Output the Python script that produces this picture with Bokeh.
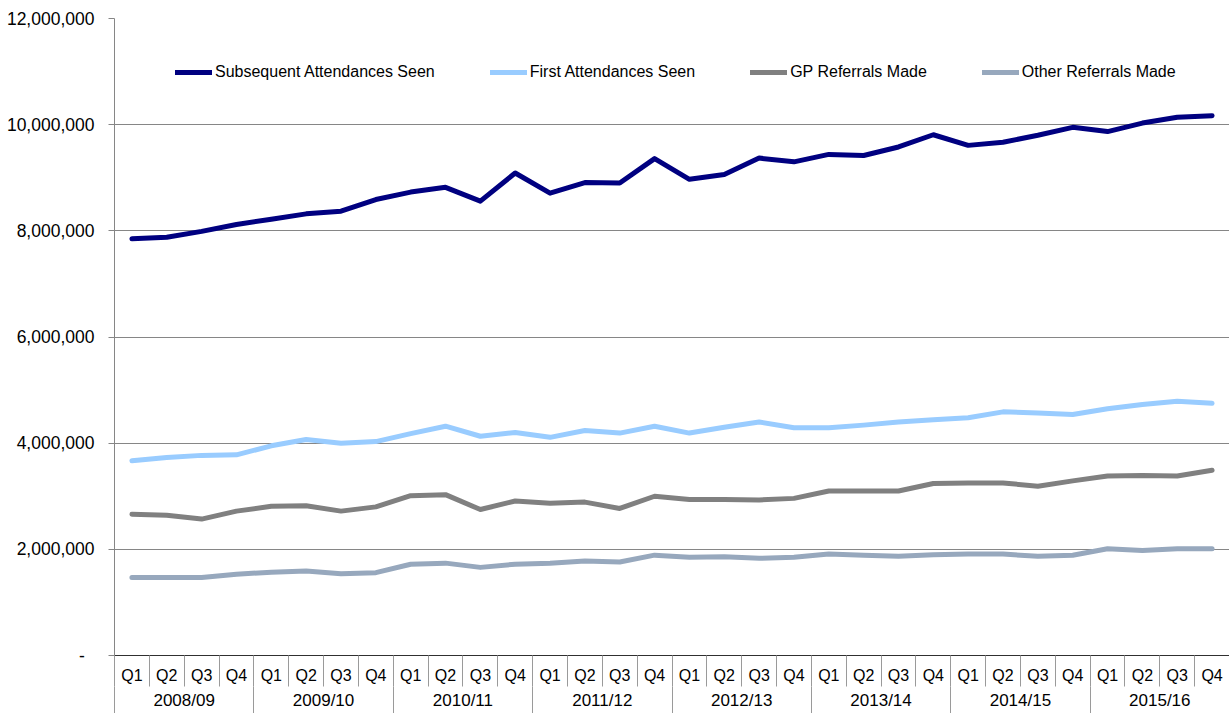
from bokeh.plotting import figure
from bokeh.models import Range1d, LinearAxis, FixedTicker, Legend, LegendItem
from bokeh.embed import file_html
from bokeh.resources import INLINE

# ---------------- data ----------------
years = ["2008/09", "2009/10", "2010/11", "2011/12", "2012/13", "2013/14", "2014/15", "2015/16"]
quarters = ["Q1", "Q2", "Q3", "Q4"]

subsequent_attendances = [
    7850000, 7880000, 7990000, 8120000, 8220000, 8320000, 8370000, 8590000,
    8730000, 8820000, 8560000, 9090000, 8710000, 8910000, 8900000, 9360000,
    8970000, 9060000, 9370000, 9300000, 9440000, 9420000, 9580000, 9810000,
    9610000, 9670000, 9800000, 9950000, 9870000, 10030000, 10140000, 10170000,
]
first_attendances = [
    3670000, 3730000, 3770000, 3780000, 3950000, 4070000, 4000000, 4030000,
    4180000, 4320000, 4130000, 4200000, 4110000, 4240000, 4190000, 4320000,
    4190000, 4300000, 4400000, 4290000, 4290000, 4340000, 4400000, 4440000,
    4480000, 4590000, 4570000, 4540000, 4650000, 4730000, 4790000, 4750000,
]
gp_referrals = [
    2660000, 2640000, 2570000, 2720000, 2810000, 2820000, 2720000, 2800000,
    3010000, 3030000, 2750000, 2910000, 2870000, 2890000, 2770000, 3000000,
    2940000, 2940000, 2930000, 2960000, 3100000, 3100000, 3100000, 3240000,
    3250000, 3250000, 3190000, 3290000, 3380000, 3390000, 3380000, 3490000,
]
other_referrals = [
    1470000, 1470000, 1470000, 1530000, 1570000, 1590000, 1540000, 1560000,
    1720000, 1740000, 1660000, 1720000, 1740000, 1780000, 1760000, 1890000,
    1850000, 1860000, 1830000, 1850000, 1910000, 1890000, 1870000, 1900000,
    1910000, 1910000, 1870000, 1890000, 2010000, 1980000, 2010000, 2010000,
]

series_names = ["Subsequent Attendances Seen", "First Attendances Seen",
                "GP Referrals Made", "Other Referrals Made"]
series_values = [subsequent_attendances, first_attendances, gp_referrals, other_referrals]
series_colors = ["#000080", "#99CCFF", "#808080", "#97A8BD"]

y_ticks = [0, 2000000, 4000000, 6000000, 8000000, 10000000, 12000000]
y_tick_labels = ["-\u00a0\u00a0", "2,000,000", "4,000,000", "6,000,000",
                 "8,000,000", "10,000,000", "12,000,000"]

# ---------------- derived positions ----------------
quarter_labels = [q for _y in years for q in quarters]
n = len(quarter_labels)
xs = [i + 0.5 for i in range(n)]
boundaries = [float(i) for i in range(n + 1)]
year_centers = [len(quarters) * j + len(quarters) / 2 for j in range(len(years))]
year_bounds = [float(len(quarters) * j) for j in range(len(years) + 1)]

FONT = "Liberation Sans"

p = figure(
    width=1229, height=713,
    x_range=Range1d(0, n), y_range=Range1d(0, 12000000),
    x_axis_type=None,
    toolbar_location=None, output_backend="svg",
    min_border_left=114, min_border_right=0, min_border_top=18, min_border_bottom=58,
    outline_line_color=None,
    background_fill_color="white", border_fill_color="white",
)

# y axis
yax = p.yaxis[0]
yax.ticker = FixedTicker(ticks=y_ticks)
yax.major_label_overrides = {t: l for t, l in zip(y_ticks, y_tick_labels)}
yax.axis_line_color = "#868686"
yax.major_tick_line_color = "#868686"
yax.major_tick_out = 6
yax.major_tick_in = 0
yax.minor_tick_line_color = None
yax.major_label_standoff = 14
yax.major_label_text_font = FONT
yax.major_label_text_font_size = "17.5px"
yax.major_label_text_color = "#000000"

p.ygrid.grid_line_color = "#868686"
p.ygrid.grid_line_width = 1

# quarter axis (minor ticks draw the cell separators)
qax = LinearAxis(
    ticker=FixedTicker(ticks=xs, minor_ticks=boundaries),
    major_label_overrides={x: q for x, q in zip(xs, quarter_labels)},
    major_tick_line_color=None, major_tick_out=0, major_tick_in=0,
    minor_tick_line_color="#9a9a9a", minor_tick_out=31, minor_tick_in=0,
    axis_line_color="#303030",
    major_label_standoff=-20,
    major_label_text_font=FONT, major_label_text_font_size="16px",
    major_label_text_color="#000000",
)
p.add_layout(qax, "below")

# year axis
yrax = LinearAxis(
    ticker=FixedTicker(ticks=year_centers, minor_ticks=year_bounds),
    major_label_overrides={x: yr for x, yr in zip(year_centers, years)},
    major_tick_line_color=None, major_tick_out=0, major_tick_in=0,
    minor_tick_line_color="#9a9a9a", minor_tick_out=31, minor_tick_in=0,
    axis_line_color=None,
    major_label_standoff=-27,
    major_label_text_font=FONT, major_label_text_font_size="17px",
    major_label_text_color="#000000",
)
p.add_layout(yrax, "below")

items = []
for name, vals, col in zip(series_names, series_values, series_colors):
    r = p.line(xs, vals, line_color=col, line_width=5,
               line_join="round", line_cap="round")
    items.append(LegendItem(label=name, renderers=[r]))

legend = Legend(
    items=items, orientation="horizontal",
    location=(61, 573), spacing=55,
    glyph_width=37, glyph_height=20, label_standoff=3, label_height=20,
    padding=0, margin=0,
    border_line_color=None, background_fill_alpha=0,
    label_text_font=FONT, label_text_font_size="16px", label_text_color="#000000",
)
p.add_layout(legend)

open("out.html", "w").write(file_html(p, INLINE))
